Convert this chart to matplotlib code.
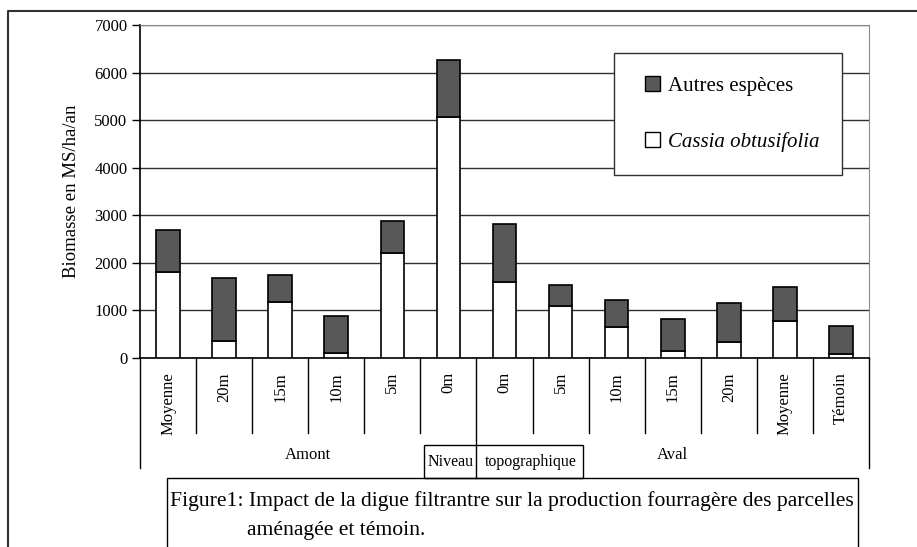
import numpy as np
import matplotlib.pyplot as plt
from matplotlib.lines import Line2D
from matplotlib.patches import Rectangle, Patch
from matplotlib.legend_handler import HandlerPatch
import matplotlib.transforms as mtransforms

plt.rcParams['font.family'] = ['Liberation Serif', 'DejaVu Serif']

# Données
categories = ['Moyenne', '20m', '15m', '10m', '5m', '0m',
              '0m', '5m', '10m', '15m', '20m', 'Moyenne', 'Témoin']
cassia = [1800, 360, 1185, 100, 2200, 5060, 1605, 1100, 660, 150, 330, 785, 80]
total = [2690, 1690, 1745, 890, 2880, 6260, 2810, 1530, 1220, 820, 1165, 1500, 665]
autres = [t - c for t, c in zip(total, cassia)]
groups = ['Amont', 'Aval']
group_sizes = [6, 7]

W, H = 917, 547
fig = plt.figure(figsize=(W / 100, H / 100), dpi=100)

def fx(px):
    return px / W

def fy(py):
    return 1 - py / H

ax = fig.add_axes([fx(140), fy(358), fx(869) - fx(140), fy(25) - fy(358)])

x = np.arange(len(categories))
ax.bar(x, cassia, width=0.42, color='white', edgecolor='black', linewidth=1.2, zorder=3,
       label='Cassia obtusifolia')
ax.bar(x, autres, bottom=cassia, width=0.42, color='#585858', edgecolor='black',
       linewidth=1.2, zorder=3, label='Autres espèces')

ax.set_xlim(-0.5, len(categories) - 0.5)
ax.set_ylim(0, 7000)
ax.set_yticks(np.arange(0, 7001, 1000))
ax.tick_params(axis='y', direction='out', length=6, width=1, pad=3, labelsize=12)
ax.set_xticks([])
ax.grid(axis='y', color='#303030', linewidth=1, zorder=0)
ax.set_ylabel('Biomasse en MS/ha/an', fontsize=13.5, labelpad=10)
for s in ['top', 'right']:
    ax.spines[s].set_color('#8a8a8a')
for s in ['left', 'bottom']:
    ax.spines[s].set_color('black')
    ax.spines[s].set_linewidth(1.2)

# Légende (carré placé à droite de la zone du symbole)
def carre(legend, orig_handle, xdescent, ydescent, width, height, fontsize):
    return Rectangle((-xdescent + width - height, -ydescent), height, height)

handles = [Patch(facecolor='#585858', edgecolor='black'),
           Patch(facecolor='white', edgecolor='black')]
leg = ax.legend(handles, ['Autres espèces', 'Cassia obtusifolia'],
                loc='upper left', mode='expand',
                bbox_to_anchor=(fx(614), fy(53), fx(842) - fx(614), 0.0),
                bbox_transform=fig.transFigure, borderaxespad=0,
                fontsize=15, frameon=True, fancybox=False, framealpha=1,
                edgecolor='#303030', borderpad=1.1, labelspacing=1.75,
                handlelength=1.1, handleheight=0.7, handletextpad=0.4,
                handler_map={Patch: HandlerPatch(patch_func=carre)})
leg.get_frame().set_linewidth(1)
leg.get_texts()[1].set_style('italic')

# Axe des catégories
trans = mtransforms.blended_transform_factory(ax.transData, fig.transFigure)
for i, lab in enumerate(categories):
    ax.text(i, fy(372), lab, rotation=90, ha='center', va='top', fontsize=12,
            transform=trans)
for b in range(1, len(categories)):
    yb = 478 if b == group_sizes[0] else 433
    fig.add_artist(Line2D([b - 0.5, b - 0.5], [fy(358), fy(yb)], color='black',
                          linewidth=1, transform=trans))
for xb in [-0.5, len(categories) - 0.5]:
    fig.add_artist(Line2D([xb, xb], [fy(358), fy(468)], color='black',
                          linewidth=1, transform=trans))

start = -0.5
for g, n in zip(groups, group_sizes):
    ax.text(start + n / 2, fy(455), g, ha='center', va='center', fontsize=12,
            transform=trans)
    start += n

# Niveau topographique
fig.add_artist(Rectangle((fx(424), fy(478)), fx(583) - fx(424), fy(445) - fy(478),
                         transform=fig.transFigure, fill=False, edgecolor='black',
                         linewidth=1))
fig.text(fx(451), fy(462), 'Niveau', ha='center', va='center', fontsize=11.5)
fig.text(fx(531), fy(462), 'topographique', ha='center', va='center', fontsize=11.5)

# Légende de la figure
fig.add_artist(Rectangle((fx(167), fy(560)), fx(858) - fx(167), fy(478) - fy(560),
                         transform=fig.transFigure, fill=False, edgecolor='black',
                         linewidth=1, clip_on=False))
fig.text(fx(170), fy(501),
         'Figure1: Impact de la digue filtrantre sur la production fourragère des parcelles',
         ha='left', va='center', fontsize=15.6)
fig.text(fx(247), fy(530), 'aménagée et témoin.', ha='left', va='center', fontsize=15.6)

# Cadre extérieur
fig.add_artist(Line2D([fx(8), fx(8), 1.0], [0.0, fy(11), fy(11)], color='#303030',
                      linewidth=1.5))

fig.savefig('out.png', dpi=100)
